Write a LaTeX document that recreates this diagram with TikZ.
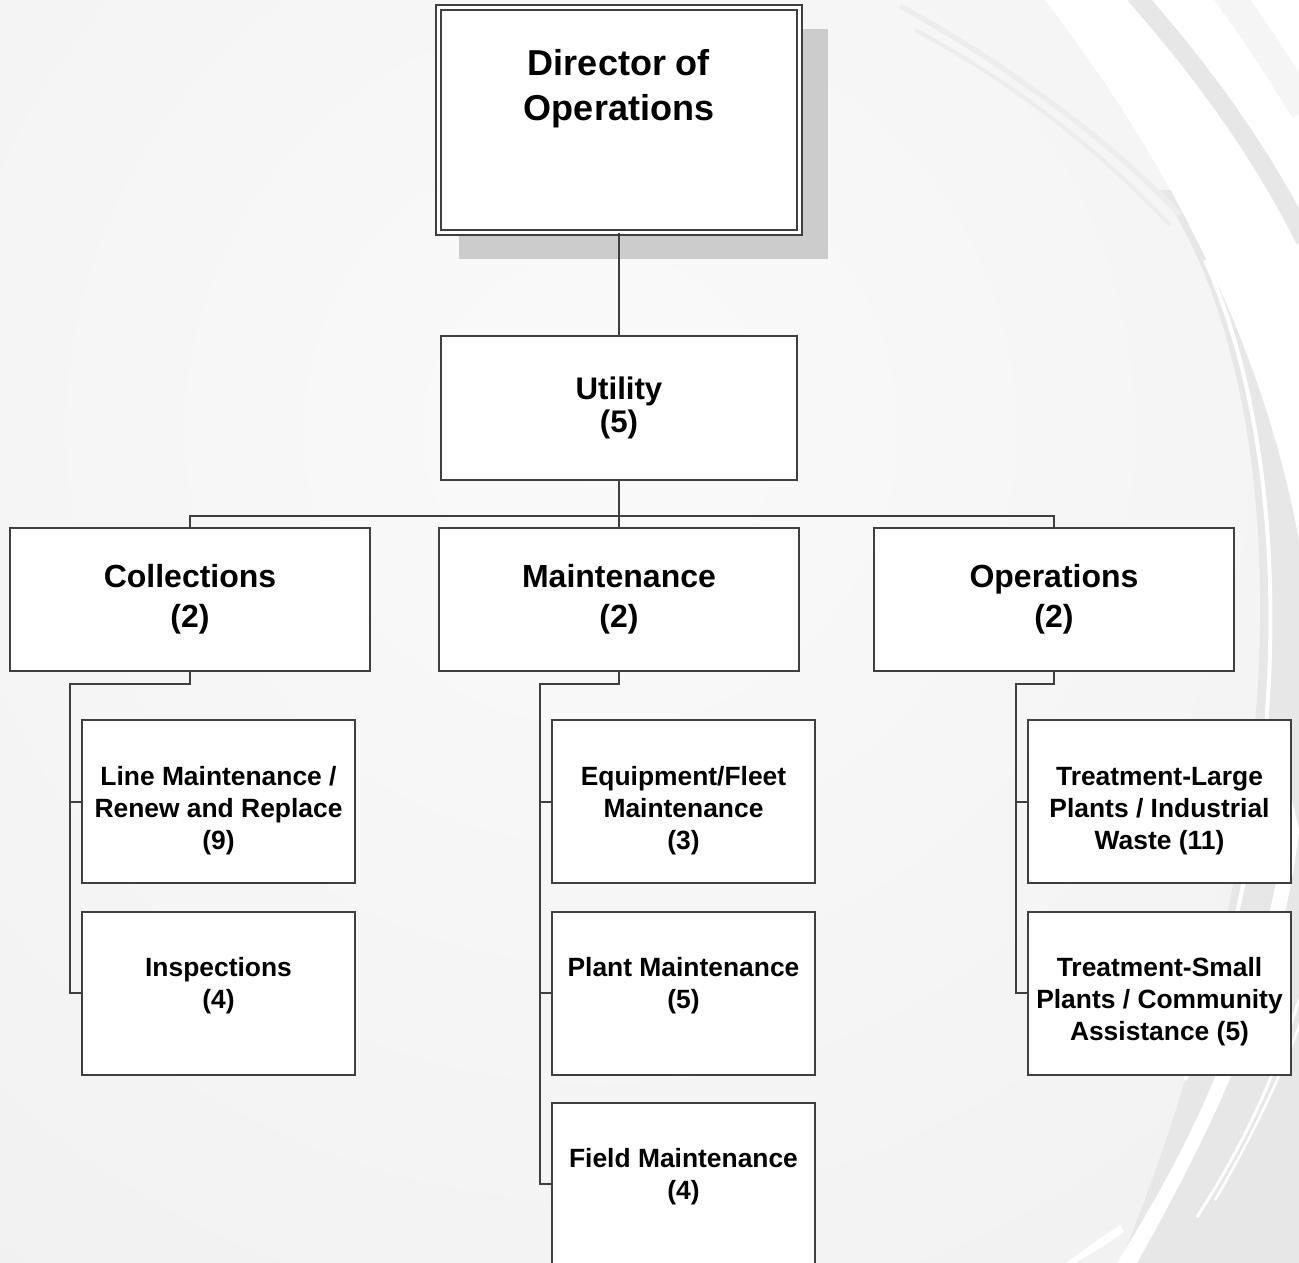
\documentclass[tikz,border=0pt]{standalone}
\usepackage{fontspec}
\setmainfont{Liberation Sans}
\usetikzlibrary{shadows}
\definecolor{lineg}{HTML}{3F3F3F}
\definecolor{bgout}{HTML}{EAEAEA}
\definecolor{bgin}{HTML}{FAFAFA}
\definecolor{bgdark}{HTML}{E7E7E7}
\definecolor{arcg}{HTML}{EDEDED}
\definecolor{shadowg}{HTML}{CCCCCC}
\newcommand{\subtxt}[1]{\parbox[t]{192pt}{\centering\fontsize{19.8}{24}\selectfont\bfseries #1}}
\begin{document}
\begin{tikzpicture}[x=0.75pt,y=-0.75pt,
  box/.style={draw=lineg, line width=1.5pt, fill=white, rectangle, inner sep=0pt, outer sep=0pt},
  midbox/.style={box, minimum width=270pt, minimum height=107.25pt, align=center,
    font=\fontsize{24}{30}\selectfont\bfseries},
  subbox/.style={box, minimum width=197.25pt, minimum height=122.25pt},
  subtext/.style={anchor=base, inner sep=0pt},
  conn/.style={draw=lineg, line width=1.5pt}]
\useasboundingbox (0,0) rectangle (1299,1263);
% background
\begin{scope}
\clip (0,0) rectangle (1299,1263);
\fill[bgout] (0,0) rectangle (1299,1263);
\shade[inner color=bgin, outer color=bgout] (600,430) circle (1900);
% darker right region
\fill[bgdark] (1160,190) .. controls (1290,380) and (1310,800) .. (1120,1263) -- (1299,1263) -- (1299,190) -- cycle;
% big white crescent at top right
\fill[white] (1045,0) .. controls (1160,150) and (1260,330) .. (1299,540) -- (1299,0) -- cycle;
\draw[bgdark, line width=14] (1135,-5) .. controls (1210,80) and (1265,160) .. (1305,240);
\draw[bgout!50!white, line width=22] (1225,-10) .. controls (1255,30) and (1280,70) .. (1305,110);
% faint grey arcs coming from the left
\draw[arcg, line width=4] (900,6) .. controls (1000,60) and (1110,140) .. (1180,215);
\draw[arcg, line width=3] (915,30) .. controls (1010,80) and (1100,150) .. (1170,225);
% thin white line continuing down
\draw[white, line width=3] (1205,260) .. controls (1300,470) and (1290,820) .. (1185,1080);
% thick lower swoosh
\fill[white] (1117,1263) .. controls (1180,1160) and (1255,1030) .. (1292,800) -- (1299,830) .. controls (1280,1000) and (1200,1150) .. (1137,1263) -- cycle;
\fill[white] (1066,1263) .. controls (1090,1245) and (1105,1235) .. (1120,1225) -- (1124,1232) .. controls (1105,1245) and (1090,1255) .. (1074,1263) -- cycle;
\draw[white, line width=2.2] (1197,1217) .. controls (1240,1150) and (1270,1090) .. (1299,1000);
\draw[white, line width=1.8] (1215,1200) .. controls (1250,1140) and (1280,1080) .. (1305,1010);
\end{scope}
% director
\node[box, minimum width=270.75pt, minimum height=168.75pt, double=white, double distance=2.25pt,
  drop shadow={shadow xshift=18pt, shadow yshift=-17.6pt, shadow scale=1.02, fill=shadowg, opacity=1}] (dir) at (619,120) {};
\node[anchor=base, inner sep=0pt] (dirt) at (619,75)
  {\parbox[t]{260pt}{\centering\fontsize{27}{33.75}\selectfont\bfseries Director of\\Operations}};
% utility
\node[box, minimum width=267pt, minimum height=108pt, align=center,
  font=\fontsize{23.4}{25}\selectfont\bfseries] (util) at (619,408) {Utility\\(5)};
% level 2
\node[midbox] (col) at (190,599.5) {Collections\\(2)};
\node[midbox] (maint) at (619,599.5) {Maintenance\\(2)};
\node[midbox] (ops) at (1054,599.5) {Operations\\(2)};
% level 3 boxes
\node[subbox, minimum width=204.75pt] (line) at (218.5,801.5) {};
\node[subbox, minimum width=204.75pt] (insp) at (218.5,993) {};
\node[subbox] (equip) at (683.5,801.5) {};
\node[subbox] (plant) at (683.5,993) {};
\node[subbox] (field) at (683.5,1184) {};
\node[subbox] (large) at (1159.5,801.5) {};
\node[subbox] (small) at (1159.5,993) {};
% level 3 texts
\node[subtext] (linet) at (218.5,785.5) {\subtxt{Line Maintenance /\\Renew and Replace\\(9)}};
\node[subtext] (inspt) at (218.5,976.5) {\subtxt{Inspections\\(4)}};
\node[subtext] (equipt) at (683.5,785.5) {\subtxt{Equipment/Fleet\\Maintenance\\(3)}};
\node[subtext] (plantt) at (683.5,976.5) {\subtxt{Plant Maintenance\\(5)}};
\node[subtext] (fieldt) at (683.5,1167.5) {\subtxt{Field Maintenance\\(4)}};
\node[subtext] (larget) at (1159.5,785.5) {\subtxt{Treatment-Large\\Plants / Industrial\\Waste (11)}};
\node[subtext] (smallt) at (1159.5,976.5) {\subtxt{Treatment-Small\\Plants / Community\\Assistance (5)}};
% connectors
\draw[conn] (dir.south) -- (util.north);
\draw[conn] (util.south) -- ++(0,36) coordinate (hub);
\draw[conn] (hub) -| (col.north);
\draw[conn] (hub) -| (ops.north);
\draw[conn] (hub) -- (maint.north);
\draw[conn] (col.south) -- ++(0,13) -| ([xshift=-9pt]insp.west) -- (insp.west);
\draw[conn] ([xshift=-9pt]line.west) -- (line.west);
\draw[conn] (maint.south) -- ++(0,13) -| ([xshift=-9pt]field.west) -- (field.west);
\draw[conn] ([xshift=-9pt]equip.west) -- (equip.west);
\draw[conn] ([xshift=-9pt]plant.west) -- (plant.west);
\draw[conn] (ops.south) -- ++(0,13) -| ([xshift=-9pt]small.west) -- (small.west);
\draw[conn] ([xshift=-9pt]large.west) -- (large.west);
\end{tikzpicture}
\end{document}
